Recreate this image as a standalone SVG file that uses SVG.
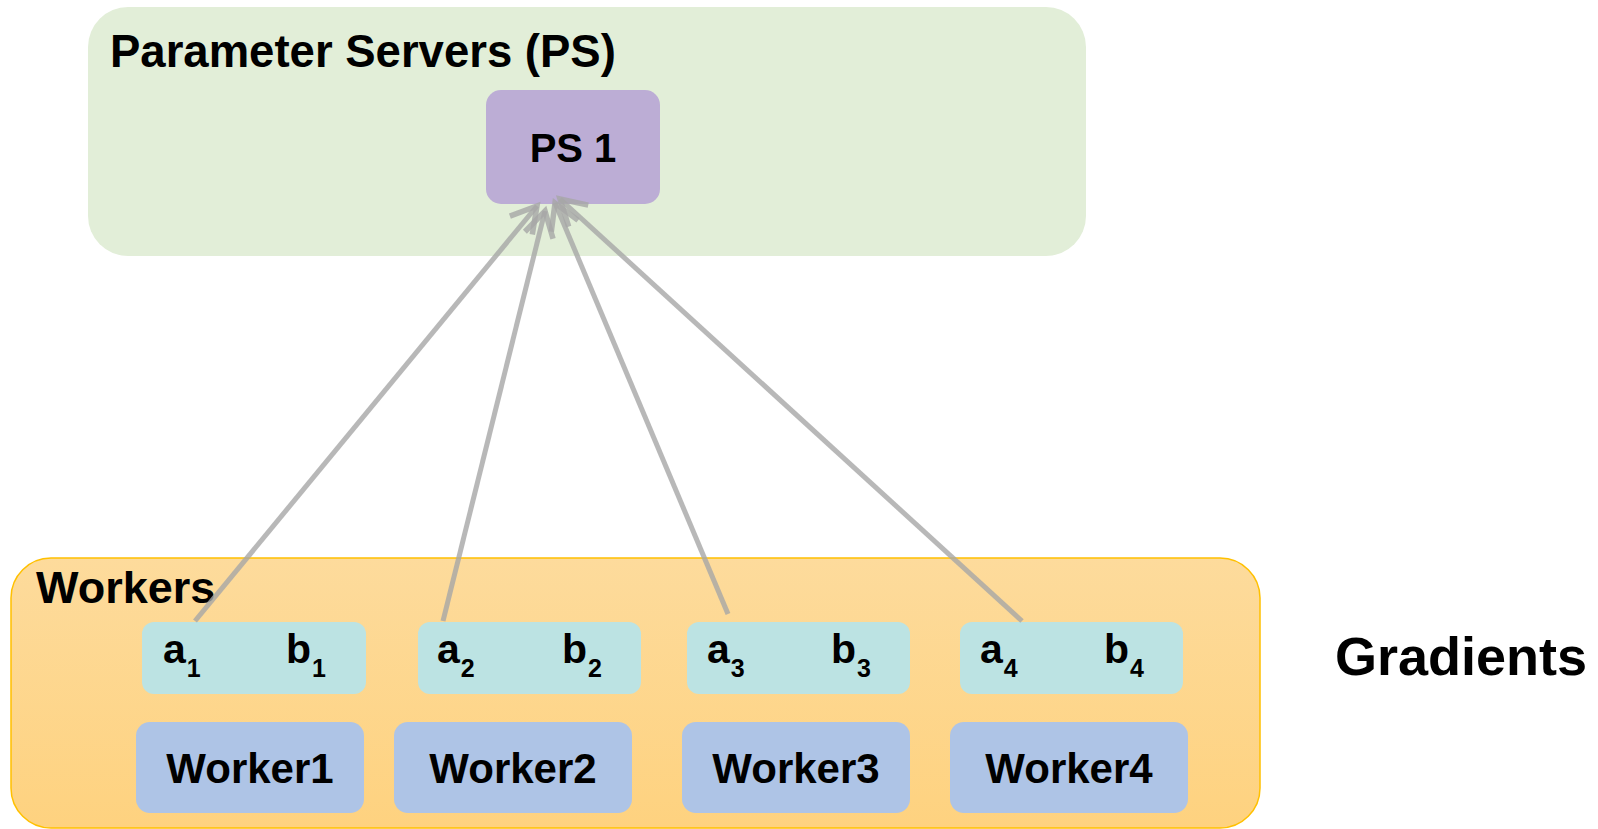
<svg xmlns="http://www.w3.org/2000/svg" width="1598" height="829" viewBox="0 0 1598 829">
<style>
text{font-family:"Liberation Sans",Arial,sans-serif;font-weight:bold;fill:#000}
.grad{fill:#BCE3E3}
.wk{fill:#AEC4E6}
.conn{fill:none;stroke:#A6A6A6;stroke-opacity:0.8;stroke-width:5;stroke-linecap:butt}
.lbl{font-size:41px}
.sub{font-size:25px}
.wt{font-size:42px;text-anchor:middle}
</style>
<defs>
<linearGradient id="og" x1="0" y1="0" x2="0" y2="1">
<stop offset="0" stop-color="#FDDB9C"/>
<stop offset="1" stop-color="#FED27F"/>
</linearGradient>
<marker id="ah" viewBox="-7 -5 9 10" refX="0" refY="0" markerWidth="9" markerHeight="10" orient="auto" markerUnits="strokeWidth">
<path d="M-5,-2.9 L0,0 L-5,2.9" fill="none" stroke="#A6A6A6" stroke-opacity="0.8" stroke-width="1.1" stroke-linejoin="miter"/>
</marker>
</defs>
<rect width="1598" height="829" fill="#fff"/>
<g id="ps-group">
<rect x="88" y="7" width="998" height="249" rx="40" fill="#E2EED8"/>
<text x="110" y="67" font-size="45.5">Parameter Servers (PS)</text>
</g>
<g id="ps1">
<rect x="486" y="90" width="174" height="114" rx="15" fill="#BCADD5"/>
<text x="573" y="162" font-size="40" text-anchor="middle">PS 1</text>
</g>
<g id="workers-group">
<rect x="11" y="558" width="1249" height="270" rx="40" fill="url(#og)" stroke="#FFC000" stroke-width="1.5"/>
<text x="36" y="603" font-size="45">Workers</text>
</g>
<g id="grad1">
<rect class="grad" x="142" y="622" width="224" height="72" rx="12"/>
<text class="lbl" x="163" y="663">a<tspan class="sub" dx="1" dy="14">1</tspan></text>
<text class="lbl" x="286" y="663">b<tspan class="sub" dx="1" dy="14">1</tspan></text>
</g>
<g id="grad2">
<rect class="grad" x="418" y="622" width="223" height="72" rx="12"/>
<text class="lbl" x="437" y="663">a<tspan class="sub" dx="1" dy="14">2</tspan></text>
<text class="lbl" x="562" y="663">b<tspan class="sub" dx="1" dy="14">2</tspan></text>
</g>
<g id="grad3">
<rect class="grad" x="687" y="622" width="223" height="72" rx="12"/>
<text class="lbl" x="707" y="663">a<tspan class="sub" dx="1" dy="14">3</tspan></text>
<text class="lbl" x="831" y="663">b<tspan class="sub" dx="1" dy="14">3</tspan></text>
</g>
<g id="grad4">
<rect class="grad" x="960" y="622" width="223" height="72" rx="12"/>
<text class="lbl" x="980" y="663">a<tspan class="sub" dx="1" dy="14">4</tspan></text>
<text class="lbl" x="1104" y="663">b<tspan class="sub" dx="1" dy="14">4</tspan></text>
</g>
<g id="worker1">
<rect class="wk" x="136" y="722" width="228" height="91" rx="14"/>
<text class="wt" x="250" y="783">Worker1</text>
</g>
<g id="worker2">
<rect class="wk" x="394" y="722" width="238" height="91" rx="14"/>
<text class="wt" x="513" y="783">Worker2</text>
</g>
<g id="worker3">
<rect class="wk" x="682" y="722" width="228" height="91" rx="14"/>
<text class="wt" x="796" y="783">Worker3</text>
</g>
<g id="worker4">
<rect class="wk" x="950" y="722" width="238" height="91" rx="14"/>
<text class="wt" x="1069" y="783">Worker4</text>
</g>
<g id="gradients-label">
<text x="1335" y="675" font-size="54">Gradients</text>
</g>
<g id="connectors">
<path class="conn" d="M195,621 L537,206" marker-end="url(#ah)"/>
<path class="conn" d="M443,621 L545,211" marker-end="url(#ah)"/>
<path class="conn" d="M728,614 L555,203" marker-end="url(#ah)"/>
<path class="conn" d="M1022,621 L560,199" marker-end="url(#ah)"/>
</g>
</svg>
